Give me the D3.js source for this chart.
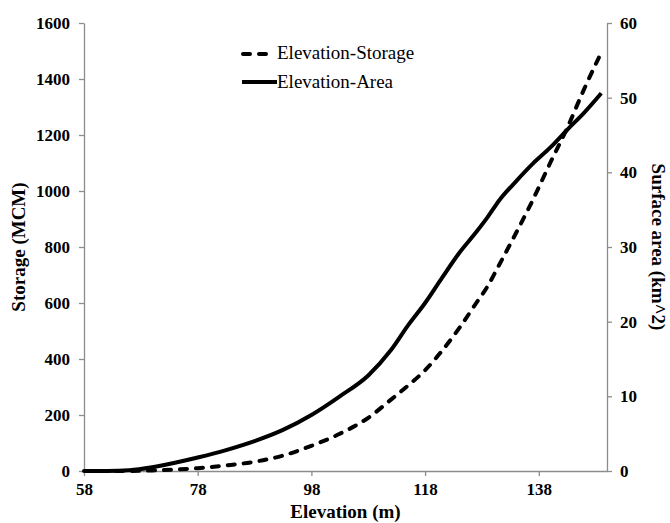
<!DOCTYPE html>
<html>
<head>
<meta charset="utf-8">
<script src="https://cdn.jsdelivr.net/npm/d3@7"></script>
<style>
  body { margin: 0; background: #fff; }
</style>
</head>
<body>
<figure id="chart" style="margin:0"></figure>
<script>
// elevation (m) readings along both curves
const elevation = [58, 62, 66, 70, 74, 78, 83, 88, 93, 98, 103, 108, 112, 115, 118, 121, 124, 127, 129, 131, 134, 137, 140, 143, 146, 149];
// storage (MCM), left axis
const storage = [0, 0, 0, 2, 5, 10, 20, 33, 55, 90, 133, 190, 255, 305, 360, 430, 510, 600, 660, 735, 850, 970, 1100, 1225, 1365, 1495];
// surface area (km^2), right axis
const area = [0, 0, 0.1, 0.5, 1.1, 1.8, 2.8, 4.0, 5.5, 7.5, 10.0, 12.8, 16.2, 19.5, 22.5, 25.9, 29.2, 32.0, 34.0, 36.2, 38.8, 41.2, 43.3, 45.7, 48.0, 50.6];

const xTicks = [58, 78, 98, 118, 138];
const yLeftTicks = [0, 200, 400, 600, 800, 1000, 1200, 1400, 1600];
const yRightTicks = [0, 10, 20, 30, 40, 50, 60];

const width = 670, height = 523;
const margin = { top: 23, right: 63, bottom: 52, left: 84 };
const innerW = width - margin.left - margin.right;
const innerH = height - margin.top - margin.bottom;

const serif = "'Liberation Serif', 'Times New Roman', serif";

const svg = d3.select("figure#chart")
  .append("svg")
  .attr("width", width)
  .attr("height", height)
  .attr("font-family", serif);

const g = svg.append("g")
  .attr("transform", "translate(" + margin.left + "," + margin.top + ")");

const x = d3.scaleLinear().domain([58, 150]).range([0, innerW]);
const yL = d3.scaleLinear().domain([0, 1600]).range([innerH, 0]);
const yR = d3.scaleLinear().domain([0, 60]).range([innerH, 0]);

const axisColor = "#8c8c8c";
const fmt = d3.format("d");

function styleAxis(sel) {
  sel.attr("font-family", serif);
  sel.select(".domain").attr("stroke", axisColor).attr("stroke-width", 1.3);
  sel.selectAll(".tick line").attr("stroke", axisColor).attr("stroke-width", 1.3);
  sel.selectAll(".tick text")
    .attr("fill", "#000")
    .style("font-family", serif)
    .style("font-size", "17px")
    .style("font-weight", "bold");
}

// bottom axis
g.append("g")
  .attr("transform", "translate(0," + innerH + ")")
  .call(d3.axisBottom(x).tickValues(xTicks).tickFormat(fmt).tickSize(5).tickSizeOuter(0).tickPadding(7))
  .call(styleAxis);

// left axis
g.append("g")
  .call(d3.axisLeft(yL).tickValues(yLeftTicks).tickFormat(fmt).tickSize(5).tickSizeOuter(0).tickPadding(9))
  .call(styleAxis);

// right axis
g.append("g")
  .attr("transform", "translate(" + innerW + ",0)")
  .call(d3.axisRight(yR).tickValues(yRightTicks).tickFormat(fmt).tickSize(5).tickSizeOuter(0).tickPadding(8))
  .call(styleAxis);

const storageData = elevation.map((e, i) => [e, storage[i]]);
const areaData = elevation.map((e, i) => [e, area[i]]);

const lineStorage = d3.line()
  .x(d => x(d[0]))
  .y(d => yL(d[1]))
  .curve(d3.curveMonotoneX);

const lineArea = d3.line()
  .x(d => x(d[0]))
  .y(d => yR(d[1]))
  .curve(d3.curveMonotoneX);

g.append("path")
  .datum(areaData)
  .attr("d", lineArea)
  .attr("fill", "none")
  .attr("stroke", "#000")
  .attr("stroke-width", 4)
  .attr("stroke-linejoin", "round");

g.append("path")
  .datum(storageData)
  .attr("d", lineStorage)
  .attr("fill", "none")
  .attr("stroke", "#000")
  .attr("stroke-width", 4)
  .attr("stroke-linecap", "round")
  .attr("stroke-dasharray", "7,9");

// legend
const legend = svg.append("g").style("font-family", serif);
legend.append("line")
  .attr("x1", 243).attr("x2", 270).attr("y1", 54).attr("y2", 54)
  .attr("stroke", "#000").attr("stroke-width", 4)
  .attr("stroke-linecap", "round").attr("stroke-dasharray", "7,9");
legend.append("text")
  .attr("x", 277).attr("y", 59)
  .style("font-size", "19px")
  .text("Elevation-Storage");
legend.append("line")
  .attr("x1", 242).attr("x2", 277).attr("y1", 82).attr("y2", 82)
  .attr("stroke", "#000").attr("stroke-width", 4);
legend.append("text")
  .attr("x", 277).attr("y", 88)
  .style("font-size", "19px")
  .text("Elevation-Area");

// axis titles
const titleStyle = sel => sel
  .attr("text-anchor", "middle")
  .style("font-family", serif)
  .style("font-size", "19px")
  .style("font-weight", "bold");

svg.append("text")
  .attr("x", margin.left + innerW / 2)
  .attr("y", 518)
  .call(titleStyle)
  .text("Elevation (m)");

svg.append("text")
  .attr("transform", "translate(25," + (margin.top + innerH / 2) + ")rotate(-90)")
  .call(titleStyle)
  .text("Storage (MCM)");

svg.append("text")
  .attr("transform", "translate(652," + (margin.top + innerH / 2) + ")rotate(90)")
  .call(titleStyle)
  .text("Surface area (km^2)");
</script>
</body>
</html>
